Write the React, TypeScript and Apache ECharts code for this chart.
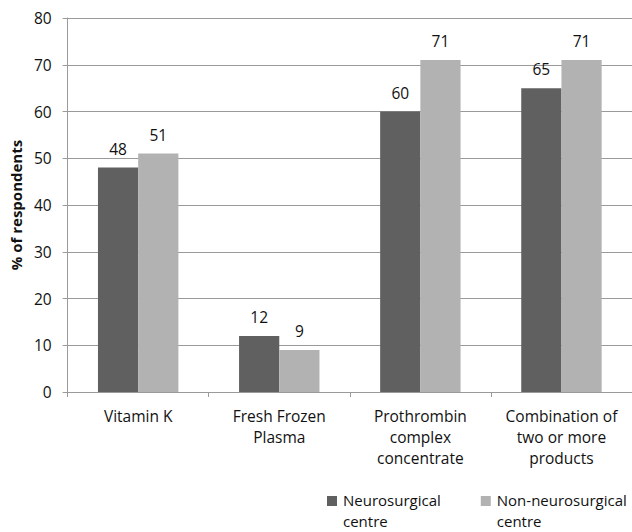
import React, { useEffect, useRef } from "react";
import * as echarts from "echarts";

const categories = [
  "Vitamin K",
  "Fresh Frozen\nPlasma",
  "Prothrombin\ncomplex\nconcentrate",
  "Combination of\ntwo or more\nproducts",
];
const neurosurgical = [48, 12, 60, 65];
const nonNeurosurgical = [51, 9, 71, 71];
const seriesNames = ["Neurosurgical centre", "Non-neurosurgical centre"];
const legendLabels: Record<string, string> = {
  "Neurosurgical centre": "Neurosurgical\ncentre",
  "Non-neurosurgical centre": "Non-neurosurgical\ncentre",
};

const FONT = "'Open Sans', sans-serif";
const GRID_COLOR = "#9a9a9a";
const TEXT_COLOR = "#111";
const ICON =
  "path://M0,7h10v10h-10zM0,0h0.01v0.01h-0.01zM9.99,41.99h0.01v0.01h-0.01z";

export default function App() {
  const ref = useRef<HTMLDivElement>(null);
  useEffect(() => {
    if (!ref.current) return;
    const chart = echarts.init(ref.current, undefined, { renderer: "svg" });
    const labelStyle = {
      show: true,
      position: "top" as const,
      distance: 11,
      fontFamily: FONT,
      fontSize: 15.5,
      color: TEXT_COLOR,
    };
    chart.setOption({
      animation: false,
      backgroundColor: "#fff",
      textStyle: { fontFamily: FONT },
      grid: { left: 67, top: 18, width: 568, height: 374, containLabel: false },
      legend: {
        left: 327,
        top: 489,
        padding: 0,
        itemGap: 40,
        itemWidth: 10,
        itemHeight: 42,
        symbolKeepAspect: true,
        data: seriesNames.map((n) => ({ name: n, icon: ICON })),
        formatter: (name: string) => legendLabels[name] || name,
        textStyle: {
          fontFamily: FONT,
          fontSize: 15,
          lineHeight: 21,
          color: TEXT_COLOR,
          padding: [0, 0, 0, 1],
        },
      },
      xAxis: {
        type: "category",
        data: categories,
        axisLine: { show: true, lineStyle: { color: GRID_COLOR, width: 1 } },
        axisTick: {
          show: true,
          alignWithLabel: false,
          length: 5,
          lineStyle: { color: GRID_COLOR },
        },
        axisLabel: {
          interval: 0,
          margin: 13,
          fontFamily: FONT,
          fontSize: 15.5,
          lineHeight: 21,
          color: TEXT_COLOR,
        },
      },
      yAxis: {
        type: "value",
        min: 0,
        max: 80,
        interval: 10,
        name: "% of respondents",
        nameLocation: "middle",
        nameRotate: 90,
        nameGap: 43,
        nameTextStyle: {
          fontFamily: FONT,
          fontSize: 15,
          fontWeight: "bold",
          color: TEXT_COLOR,
        },
        axisLine: { show: true, lineStyle: { color: GRID_COLOR, width: 1 } },
        axisTick: { show: true, length: 5, lineStyle: { color: GRID_COLOR } },
        axisLabel: {
          margin: 16,
          fontFamily: FONT,
          fontSize: 15.5,
          color: TEXT_COLOR,
        },
        splitLine: { show: true, lineStyle: { color: GRID_COLOR, width: 1 } },
      },
      series: [
        {
          name: seriesNames[0],
          type: "bar",
          data: neurosurgical,
          itemStyle: { color: "#606060" },
          barGap: "0%",
          barCategoryGap: "43%",
          label: labelStyle,
        },
        {
          name: seriesNames[1],
          type: "bar",
          data: nonNeurosurgical,
          itemStyle: { color: "#b2b2b2" },
          barGap: "0%",
          barCategoryGap: "43%",
          label: labelStyle,
        },
      ],
    });
    return () => chart.dispose();
  }, []);
  return (
    <div
      ref={ref}
      style={{ position: "fixed", left: 0, top: 0, width: 632, height: 532 }}
    />
  );
}
